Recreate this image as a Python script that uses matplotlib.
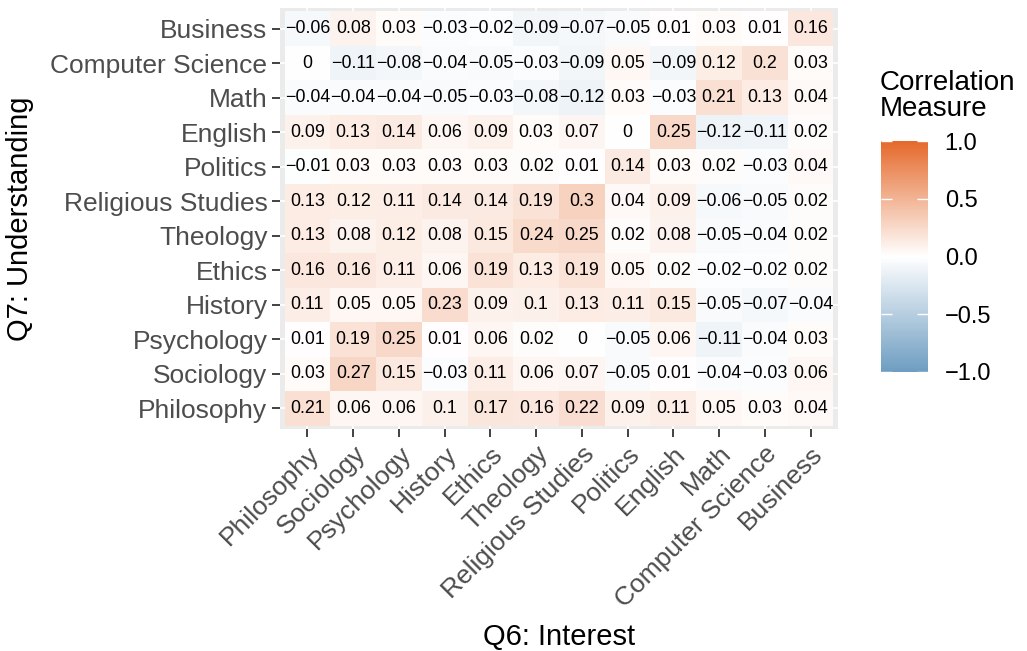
import matplotlib
matplotlib.use("Agg")
import matplotlib.pyplot as plt
from matplotlib.colors import LinearSegmentedColormap
import numpy as np

plt.rcParams['font.family'] = ['Liberation Sans', 'DejaVu Sans']

# subjects, bottom row / left column first
subjects = ["Philosophy", "Sociology", "Psychology", "History", "Ethics",
            "Theology", "Religious Studies", "Politics", "English", "Math",
            "Computer Science", "Business"]

# correlation of Q7 (understanding, rows) against Q6 (interest, columns)
philosophy = [0.21, 0.06, 0.06, 0.1, 0.17, 0.16, 0.22, 0.09, 0.11, 0.05, 0.03, 0.04]
sociology = [0.03, 0.27, 0.15, -0.03, 0.11, 0.06, 0.07, -0.05, 0.01, -0.04, -0.03, 0.06]
psychology = [0.01, 0.19, 0.25, 0.01, 0.06, 0.02, 0, -0.05, 0.06, -0.11, -0.04, 0.03]
history = [0.11, 0.05, 0.05, 0.23, 0.09, 0.1, 0.13, 0.11, 0.15, -0.05, -0.07, -0.04]
ethics = [0.16, 0.16, 0.11, 0.06, 0.19, 0.13, 0.19, 0.05, 0.02, -0.02, -0.02, 0.02]
theology = [0.13, 0.08, 0.12, 0.08, 0.15, 0.24, 0.25, 0.02, 0.08, -0.05, -0.04, 0.02]
religious = [0.13, 0.12, 0.11, 0.14, 0.14, 0.19, 0.3, 0.04, 0.09, -0.06, -0.05, 0.02]
politics = [-0.01, 0.03, 0.03, 0.03, 0.03, 0.02, 0.01, 0.14, 0.03, 0.02, -0.03, 0.04]
english = [0.09, 0.13, 0.14, 0.06, 0.09, 0.03, 0.07, 0, 0.25, -0.12, -0.11, 0.02]
math = [-0.04, -0.04, -0.04, -0.05, -0.03, -0.08, -0.12, 0.03, -0.03, 0.21, 0.13, 0.04]
compsci = [0, -0.11, -0.08, -0.04, -0.05, -0.03, -0.09, 0.05, -0.09, 0.12, 0.2, 0.03]
business = [-0.06, 0.08, 0.03, -0.03, -0.02, -0.09, -0.07, -0.05, 0.01, 0.03, 0.01, 0.16]

Z = np.array([philosophy, sociology, psychology, history, ethics, theology,
              religious, politics, english, math, compsci, business])

cmap = LinearSegmentedColormap.from_list("div", ["#6E9DC1", "#FFFFFF", "#E5692B"])

fig = plt.figure(figsize=(10.27, 6.51), dpi=100)
ax = fig.add_axes([280/1027, 1 - 429/651, 558/1027, 421/651])
ax.set_facecolor("#EBEBEB")

n = len(subjects)
edges = np.arange(n + 1) - 0.5
mesh = ax.pcolormesh(edges, edges, Z, cmap=cmap, vmin=-1, vmax=1, zorder=2)

for i in range(n):
    for j in range(n):
        lab = f"{Z[i, j]:g}".replace("-", "\u2212")
        ax.text(j, i, lab, ha="center", va="center", fontsize=12.9,
                color="black", zorder=3)

ax.set_xlim(-0.6, n - 0.4)
ax.set_ylim(-0.6, n - 0.4)
ax.set_xticks(range(n))
ax.set_yticks(range(n))
ax.set_xticklabels(subjects, rotation=45, ha="right", va="top",
                   rotation_mode="anchor")
ax.set_yticklabels(subjects)
ax.tick_params(labelsize=19, labelcolor="#4D4D4D", color="#333333",
               length=6, width=1.3, pad=3)
ax.grid(True, color="white", linewidth=1.2, zorder=1)
ax.set_axisbelow(True)
for s in ax.spines.values():
    s.set_visible(False)

ax.set_xlabel("Q6: Interest", fontsize=21, labelpad=8)
ax.set_ylabel("Q7: Understanding", fontsize=21, labelpad=12)

# colour bar legend
cax = fig.add_axes([881/1027, 1 - 372/651, 47/1027, 231/651])
cb = fig.colorbar(mesh, cax=cax)
cb.outline.set_visible(False)
cb.set_ticks([-1.0, -0.5, 0.0, 0.5, 1.0])
cb.set_ticklabels(["\u22121.0", "\u22120.5", "0.0", "0.5", "1.0"])
cax.tick_params(left=True, right=True, labelleft=False, labelright=True,
                direction="in", color="white", length=8, width=1,
                labelsize=17, labelcolor="black", pad=12)
fig.text(880/1027, 1 - 96/651, "Correlation\nMeasure", fontsize=20,
         ha="left", va="center", linespacing=1.0)

fig.savefig("out.png", dpi=100)
